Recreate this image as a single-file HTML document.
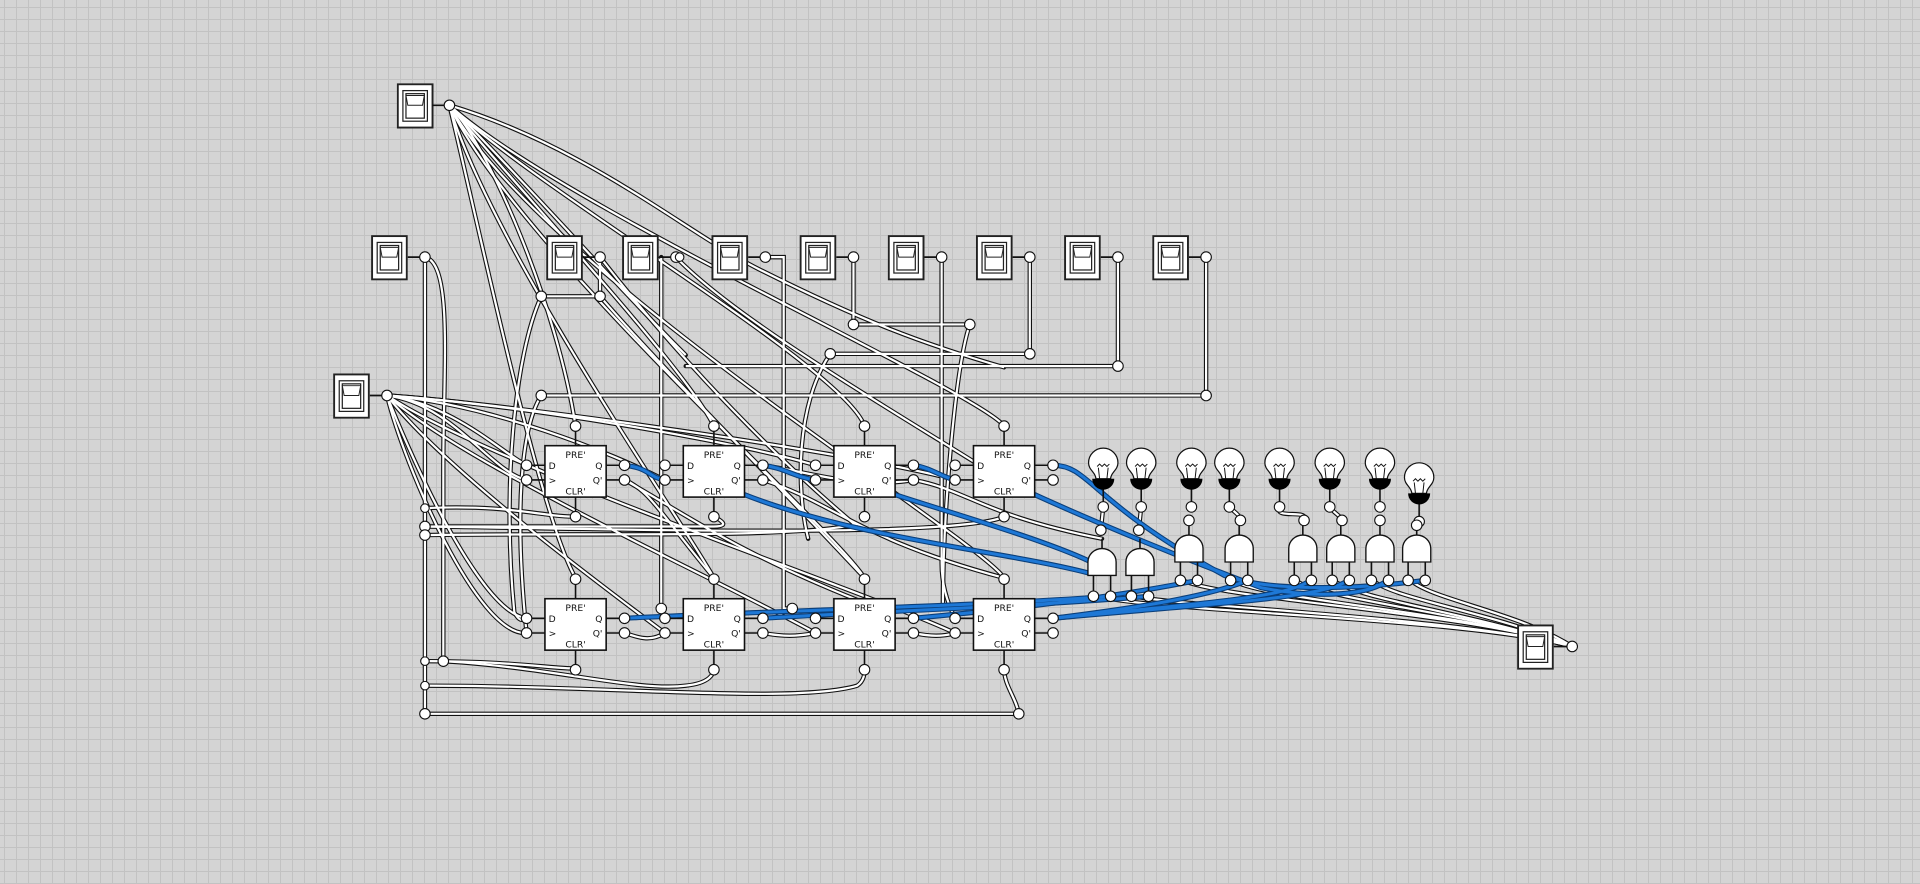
<!DOCTYPE html>
<html><head><meta charset="utf-8"><style>
html,body{margin:0;padding:0;width:1920px;height:884px;overflow:hidden;background:#d4d4d4}
#bg{position:absolute;left:0;top:0;width:1920px;height:884px;
background-color:#d4d4d4;
background-image:linear-gradient(to right,#c2c2c2 1px,transparent 1px),linear-gradient(to bottom,#c2c2c2 1px,transparent 1px);
background-size:12px 12px;background-position:4px 7px}
svg{position:absolute;left:0;top:0}
text{font-family:"DejaVu Sans","Liberation Sans",sans-serif;font-size:7.5px;fill:#111}
</style></head><body><div id="bg"></div>
<svg width="1920" height="884" viewBox="0 0 1568 722">
<defs>
<symbol id="sw" viewBox="0 0 30 37" width="30" height="37">
<rect x="0.8" y="0.8" width="28.4" height="35.4" fill="#fff" stroke="#222" stroke-width="1.6"/>
<rect x="5" y="6" width="20" height="25" fill="#fff" stroke="#222" stroke-width="1"/>
<rect x="7.5" y="8.5" width="15" height="20" fill="#fff" stroke="#222" stroke-width="1"/>
<path d="M7.5 10 L22.5 10 L21 18 L9 18 Z" fill="#fff" stroke="#222" stroke-width="0.8"/>
</symbol>
<g id="lamp">
<line x1="0" y1="20" x2="0" y2="36" stroke="#111" stroke-width="1.3"/>
<path d="M-6 13 C-6 8 -12 6 -12 0 A12 12 0 1 1 12 0 C12 6 6 8 6 13 Z" fill="#fff" stroke="#111" stroke-width="1"/>
<path d="M-4 4 L-3 13 M4 4 L3 13 M-5 3 L-3 1 L-1 3 L1 1 L3 3 L5 1" fill="none" stroke="#111" stroke-width="0.8"/>
<path d="M-9 13 L9 13 A9 9 0 0 1 -9 13 Z" fill="#000"/>
</g>
<g id="and">
<line x1="0" y1="-22" x2="0" y2="-30" stroke="#111" stroke-width="1.3"/>
<line x1="-7" y1="0" x2="-7" y2="15" stroke="#111" stroke-width="1.3"/>
<line x1="7" y1="0" x2="7" y2="15" stroke="#111" stroke-width="1.3"/>
<path d="M-11.5 0 L-11.5 -11 A11.5 11 0 0 1 11.5 -11 L11.5 0 Z" fill="#fff" stroke="#111" stroke-width="1.1"/>
</g>
</defs>

<g fill="none" stroke="#111" stroke-width="3.6" stroke-linecap="round"><g id="w">
<path d="M367 86 C400 120 455 250 470 348"/>
<path d="M367 86 C410 140 560 300 583 348"/>
<path d="M367 86 C430 150 690 300 706 348"/>
<path d="M367 86 C460 170 800 320 820 348"/>
<path d="M367 86 C390 180 440 420 470 472"/>
<path d="M367 86 C400 200 560 430 583 472"/>
<path d="M367 86 C420 200 680 430 706 472"/>
<path d="M367 86 C440 220 800 440 820 472"/>
<path d="M367 86 C480 120 560 190 620 220 C700 260 750 280 820 300"/>
<path d="M367 86 C430 150 500 230 560 290"/>
<path d="M347 210 L347 583 L832 583"/>
<path d="M347 210 C370 215 362 300 362 380 L362 540"/>
<path d="M490 210 L490 242 L442 242"/>
<path d="M442 242 C420 290 410 400 420 500 C425 510 428 505 430 505"/>
<path d="M540 210 L540 497"/>
<path d="M625 210 L640 210 L640 497 L647 497"/>
<path d="M697 210 L697 265 L792 265"/>
<path d="M792 265 C780 300 770 420 770 497"/>
<path d="M769 210 L769 460 C769 480 775 495 780 505"/>
<path d="M841 210 L841 289 L678 289"/>
<path d="M678 289 C650 330 650 400 660 440"/>
<path d="M913 210 L913 299 L560 299"/>
<path d="M985 210 L985 323 L442 323"/>
<path d="M442 323 C425 350 420 420 430 517"/>
<path d="M552 210 C600 260 720 330 800 380"/>
<path d="M490 210 C560 300 640 380 700 430"/>
<path d="M316 323 C370 330 410 370 430 380"/>
<path d="M316 323 C370 330 400 385 430 392"/>
<path d="M316 323 C400 330 500 370 543 392"/>
<path d="M316 323 C420 330 600 360 666 380"/>
<path d="M316 323 C420 330 700 370 780 392"/>
<path d="M316 323 C330 360 390 500 430 505"/>
<path d="M316 323 C330 380 390 520 430 517"/>
<path d="M316 323 C360 380 480 470 543 517"/>
<path d="M316 323 C380 380 580 470 666 517"/>
<path d="M316 323 C400 380 700 480 780 517"/>
<path d="M347 415 C420 412 440 422 470 422"/>
<path d="M347 430 L583 430 C600 430 583 422 583 422"/>
<path d="M347 437 C500 435 650 440 700 428"/>
<path d="M347 430 C500 432 780 440 820 422"/>
<path d="M347 540 C420 540 450 546 470 546"/>
<path d="M362 540 C450 545 520 565 560 560 C580 558 583 550 583 546"/>
<path d="M347 560 C500 560 650 575 700 560 C706 556 706 550 706 546"/>
<path d="M820 546 C820 560 830 570 832 583"/>
<path d="M510 392 C560 420 600 450 700 490"/>
<path d="M510 392 C530 400 540 420 583 472"/>
<path d="M623 392 C680 410 700 440 820 472"/>
<path d="M746 392 C790 400 800 420 900 440"/>
<path d="M623 380 C660 385 700 400 746 392"/>
<path d="M510 517 C520 520 530 525 543 517"/>
<path d="M623 517 C640 520 650 520 666 517"/>
<path d="M746 517 C760 520 770 520 780 517"/>
<path d="M490 242 C540 300 620 380 706 472"/>
<path d="M1284 528 C1200 505 950 500 895 487"/>
<path d="M1284 528 C1200 505 960 495 926 487"/>
<path d="M1284 528 C1200 500 1000 490 966 474"/>
<path d="M1284 528 C1200 500 1030 490 1007 474"/>
<path d="M1284 528 C1200 500 1080 490 1058 474"/>
<path d="M1284 528 C1200 500 1110 490 1089 474"/>
<path d="M1284 528 C1220 500 1140 490 1121 474"/>
<path d="M1284 528 C1240 500 1170 490 1152 474"/>
<path d="M901 414 L899 433"/><path d="M932 414 L930 433"/>
<path d="M1004 414 C1010 420 1012 420 1013 425"/>
<path d="M1045 414 C1040 425 1070 415 1065 425"/>
<path d="M1086 414 C1090 420 1094 420 1096 425"/>
</g></g>
<use href="#w" stroke="#fff" stroke-width="1.8" fill="none"/>

<g fill="none" stroke="#0b3f7a" stroke-width="4.2" stroke-linecap="round"><g id="b">
<path d="M510 380 C530 382 530 390 543 392"/>
<path d="M623 380 C640 382 650 390 666 392"/>
<path d="M746 380 C760 382 770 390 780 392"/>
<path d="M860 380 C890 380 890 410 1000 470 C1040 485 1120 480 1164 474"/>
<path d="M608 404 C700 440 820 450 889 468"/>
<path d="M731 404 C780 420 850 440 889 458"/>
<path d="M845 404 C880 420 950 450 1030 480 C1080 490 1120 485 1133 474"/>
<path d="M510 505 C600 500 800 495 907 487"/>
<path d="M623 505 C700 500 850 495 938 487"/>
<path d="M746 505 C800 500 900 490 978 474"/>
<path d="M860 505 C900 500 980 490 1019 474"/>
<path d="M860 505 C950 495 1050 490 1070 474"/>
<path d="M860 505 C960 495 1080 490 1101 474"/>
</g></g>
<use href="#b" stroke="#1e78d6" stroke-width="2.4" fill="none"/>

<use href="#sw" x="324" y="68"/>
<use href="#sw" x="303" y="192"/>
<use href="#sw" x="446" y="192"/><use href="#sw" x="508" y="192"/>
<use href="#sw" x="581" y="192"/><use href="#sw" x="653" y="192"/>
<use href="#sw" x="725" y="192"/><use href="#sw" x="797" y="192"/>
<use href="#sw" x="869" y="192"/><use href="#sw" x="941" y="192"/>
<use href="#sw" x="272" y="305"/>
<use href="#sw" x="1239" y="510"/>
<g stroke="#111" stroke-width="1.4">
<line x1="353" y1="86" x2="367" y2="86"/><line x1="333" y1="210" x2="347" y2="210"/>
<line x1="476" y1="210" x2="490" y2="210"/><line x1="538" y1="210" x2="552" y2="210"/>
<line x1="611" y1="210" x2="625" y2="210"/><line x1="683" y1="210" x2="697" y2="210"/>
<line x1="755" y1="210" x2="769" y2="210"/><line x1="827" y1="210" x2="841" y2="210"/>
<line x1="899" y1="210" x2="913" y2="210"/><line x1="971" y1="210" x2="985" y2="210"/>
<line x1="302" y1="323" x2="316" y2="323"/><line x1="1269" y1="528" x2="1284" y2="528"/>
</g>

<g stroke-width="1.3">
<g transform="translate(445,364)">
<path d="M-15 16 H0 M-15 28 H0 M50 16 H65 M50 28 H65 M25 -16 V0 M25 42 V58" stroke="#111"/>
<rect width="50" height="42" fill="#fff" stroke="#111"/>
<text x="25" y="10" text-anchor="middle">PRE'</text><text x="3" y="19">D</text><text x="3" y="31">&gt;</text>
<text x="47" y="19" text-anchor="end">Q</text><text x="47" y="31" text-anchor="end">Q'</text><text x="25" y="40" text-anchor="middle">CLR'</text></g>
<g transform="translate(558,364)">
<path d="M-15 16 H0 M-15 28 H0 M50 16 H65 M50 28 H65 M25 -16 V0 M25 42 V58" stroke="#111"/>
<rect width="50" height="42" fill="#fff" stroke="#111"/>
<text x="25" y="10" text-anchor="middle">PRE'</text><text x="3" y="19">D</text><text x="3" y="31">&gt;</text>
<text x="47" y="19" text-anchor="end">Q</text><text x="47" y="31" text-anchor="end">Q'</text><text x="25" y="40" text-anchor="middle">CLR'</text></g>
<g transform="translate(681,364)">
<path d="M-15 16 H0 M-15 28 H0 M50 16 H65 M50 28 H65 M25 -16 V0 M25 42 V58" stroke="#111"/>
<rect width="50" height="42" fill="#fff" stroke="#111"/>
<text x="25" y="10" text-anchor="middle">PRE'</text><text x="3" y="19">D</text><text x="3" y="31">&gt;</text>
<text x="47" y="19" text-anchor="end">Q</text><text x="47" y="31" text-anchor="end">Q'</text><text x="25" y="40" text-anchor="middle">CLR'</text></g>
<g transform="translate(795,364)">
<path d="M-15 16 H0 M-15 28 H0 M50 16 H65 M50 28 H65 M25 -16 V0 M25 42 V58" stroke="#111"/>
<rect width="50" height="42" fill="#fff" stroke="#111"/>
<text x="25" y="10" text-anchor="middle">PRE'</text><text x="3" y="19">D</text><text x="3" y="31">&gt;</text>
<text x="47" y="19" text-anchor="end">Q</text><text x="47" y="31" text-anchor="end">Q'</text><text x="25" y="40" text-anchor="middle">CLR'</text></g>
<g transform="translate(445,489)">
<path d="M-15 16 H0 M-15 28 H0 M50 16 H65 M50 28 H65 M25 -16 V0 M25 42 V58" stroke="#111"/>
<rect width="50" height="42" fill="#fff" stroke="#111"/>
<text x="25" y="10" text-anchor="middle">PRE'</text><text x="3" y="19">D</text><text x="3" y="31">&gt;</text>
<text x="47" y="19" text-anchor="end">Q</text><text x="47" y="31" text-anchor="end">Q'</text><text x="25" y="40" text-anchor="middle">CLR'</text></g>
<g transform="translate(558,489)">
<path d="M-15 16 H0 M-15 28 H0 M50 16 H65 M50 28 H65 M25 -16 V0 M25 42 V58" stroke="#111"/>
<rect width="50" height="42" fill="#fff" stroke="#111"/>
<text x="25" y="10" text-anchor="middle">PRE'</text><text x="3" y="19">D</text><text x="3" y="31">&gt;</text>
<text x="47" y="19" text-anchor="end">Q</text><text x="47" y="31" text-anchor="end">Q'</text><text x="25" y="40" text-anchor="middle">CLR'</text></g>
<g transform="translate(681,489)">
<path d="M-15 16 H0 M-15 28 H0 M50 16 H65 M50 28 H65 M25 -16 V0 M25 42 V58" stroke="#111"/>
<rect width="50" height="42" fill="#fff" stroke="#111"/>
<text x="25" y="10" text-anchor="middle">PRE'</text><text x="3" y="19">D</text><text x="3" y="31">&gt;</text>
<text x="47" y="19" text-anchor="end">Q</text><text x="47" y="31" text-anchor="end">Q'</text><text x="25" y="40" text-anchor="middle">CLR'</text></g>
<g transform="translate(795,489)">
<path d="M-15 16 H0 M-15 28 H0 M50 16 H65 M50 28 H65 M25 -16 V0 M25 42 V58" stroke="#111"/>
<rect width="50" height="42" fill="#fff" stroke="#111"/>
<text x="25" y="10" text-anchor="middle">PRE'</text><text x="3" y="19">D</text><text x="3" y="31">&gt;</text>
<text x="47" y="19" text-anchor="end">Q</text><text x="47" y="31" text-anchor="end">Q'</text><text x="25" y="40" text-anchor="middle">CLR'</text></g>
</g>

<use href="#lamp" transform="translate(901,378)"/><use href="#lamp" transform="translate(932,378)"/>
<use href="#lamp" transform="translate(973,378)"/><use href="#lamp" transform="translate(1004,378)"/>
<use href="#lamp" transform="translate(1045,378)"/><use href="#lamp" transform="translate(1086,378)"/>
<use href="#lamp" transform="translate(1127,378)"/><use href="#lamp" transform="translate(1159,390)"/>
<use href="#and" transform="translate(900,470)"/><use href="#and" transform="translate(931,470)"/>
<use href="#and" transform="translate(971,459)"/><use href="#and" transform="translate(1012,459)"/>
<use href="#and" transform="translate(1064,459)"/><use href="#and" transform="translate(1095,459)"/>
<use href="#and" transform="translate(1127,459)"/><use href="#and" transform="translate(1157,459)"/>

<g fill="#fff" stroke="#111" stroke-width="0.9">
<circle cx="367" cy="86" r="4.3"/><circle cx="347" cy="210" r="4.3"/>
<circle cx="490" cy="210" r="4.3"/><circle cx="552" cy="210" r="4.3"/><circle cx="555" cy="210" r="3.5"/>
<circle cx="625" cy="210" r="4.3"/><circle cx="697" cy="210" r="4.3"/><circle cx="769" cy="210" r="4.3"/>
<circle cx="841" cy="210" r="4.3"/><circle cx="913" cy="210" r="4.3"/><circle cx="985" cy="210" r="4.3"/>
<circle cx="316" cy="323" r="4.3"/><circle cx="1284" cy="528" r="4.3"/>
<circle cx="442" cy="242" r="4.3"/><circle cx="490" cy="242" r="4.3"/>
<circle cx="697" cy="265" r="4.3"/><circle cx="792" cy="265" r="4.3"/>
<circle cx="678" cy="289" r="4.3"/><circle cx="841" cy="289" r="4.3"/>
<circle cx="913" cy="299" r="4.3"/><circle cx="442" cy="323" r="4.3"/><circle cx="985" cy="323" r="4.3"/>
<circle cx="347" cy="430" r="4.3"/><circle cx="347" cy="437" r="4.3"/><circle cx="347" cy="415" r="3.5"/>
<circle cx="347" cy="540" r="3.5"/><circle cx="362" cy="540" r="4.3"/><circle cx="347" cy="560" r="3.5"/>
<circle cx="347" cy="583" r="4.3"/><circle cx="832" cy="583" r="4.3"/>
<circle cx="540" cy="497" r="4.3"/><circle cx="647" cy="497" r="4.3"/>
<circle cx="430" cy="380" r="4.3"/><circle cx="430" cy="392" r="4.3"/><circle cx="510" cy="380" r="4.3"/><circle cx="510" cy="392" r="4.3"/><circle cx="470" cy="348" r="4.3"/><circle cx="470" cy="422" r="4.3"/>
<circle cx="543" cy="380" r="4.3"/><circle cx="543" cy="392" r="4.3"/><circle cx="623" cy="380" r="4.3"/><circle cx="623" cy="392" r="4.3"/><circle cx="583" cy="348" r="4.3"/><circle cx="583" cy="422" r="4.3"/>
<circle cx="666" cy="380" r="4.3"/><circle cx="666" cy="392" r="4.3"/><circle cx="746" cy="380" r="4.3"/><circle cx="746" cy="392" r="4.3"/><circle cx="706" cy="348" r="4.3"/><circle cx="706" cy="422" r="4.3"/>
<circle cx="780" cy="380" r="4.3"/><circle cx="780" cy="392" r="4.3"/><circle cx="860" cy="380" r="4.3"/><circle cx="860" cy="392" r="4.3"/><circle cx="820" cy="348" r="4.3"/><circle cx="820" cy="422" r="4.3"/>
<circle cx="430" cy="505" r="4.3"/><circle cx="430" cy="517" r="4.3"/><circle cx="510" cy="505" r="4.3"/><circle cx="510" cy="517" r="4.3"/><circle cx="470" cy="473" r="4.3"/><circle cx="470" cy="547" r="4.3"/>
<circle cx="543" cy="505" r="4.3"/><circle cx="543" cy="517" r="4.3"/><circle cx="623" cy="505" r="4.3"/><circle cx="623" cy="517" r="4.3"/><circle cx="583" cy="473" r="4.3"/><circle cx="583" cy="547" r="4.3"/>
<circle cx="666" cy="505" r="4.3"/><circle cx="666" cy="517" r="4.3"/><circle cx="746" cy="505" r="4.3"/><circle cx="746" cy="517" r="4.3"/><circle cx="706" cy="473" r="4.3"/><circle cx="706" cy="547" r="4.3"/>
<circle cx="780" cy="505" r="4.3"/><circle cx="780" cy="517" r="4.3"/><circle cx="860" cy="505" r="4.3"/><circle cx="860" cy="517" r="4.3"/><circle cx="820" cy="473" r="4.3"/><circle cx="820" cy="547" r="4.3"/>
<circle cx="901" cy="414" r="4.3"/><circle cx="932" cy="414" r="4.3"/><circle cx="973" cy="414" r="4.3"/><circle cx="1004" cy="414" r="4.3"/>
<circle cx="1045" cy="414" r="4.3"/><circle cx="1086" cy="414" r="4.3"/><circle cx="1127" cy="414" r="4.3"/><circle cx="1159" cy="426" r="4.3"/>
<circle cx="899" cy="433" r="4.3"/><circle cx="930" cy="433" r="4.3"/><circle cx="971" cy="425" r="4.3"/><circle cx="1013" cy="425" r="4.3"/>
<circle cx="1065" cy="425" r="4.3"/><circle cx="1096" cy="425" r="4.3"/><circle cx="1127" cy="425" r="4.3"/><circle cx="1157" cy="429" r="4.3"/>
<circle cx="893" cy="487" r="4.3"/><circle cx="907" cy="487" r="4.3"/><circle cx="924" cy="487" r="4.3"/><circle cx="938" cy="487" r="4.3"/>
<circle cx="964" cy="474" r="4.3"/><circle cx="978" cy="474" r="4.3"/><circle cx="1005" cy="474" r="4.3"/><circle cx="1019" cy="474" r="4.3"/>
<circle cx="1057" cy="474" r="4.3"/><circle cx="1071" cy="474" r="4.3"/><circle cx="1088" cy="474" r="4.3"/><circle cx="1102" cy="474" r="4.3"/>
<circle cx="1120" cy="474" r="4.3"/><circle cx="1134" cy="474" r="4.3"/><circle cx="1150" cy="474" r="4.3"/><circle cx="1164" cy="474" r="4.3"/>
</g>
</svg>
</body></html>
